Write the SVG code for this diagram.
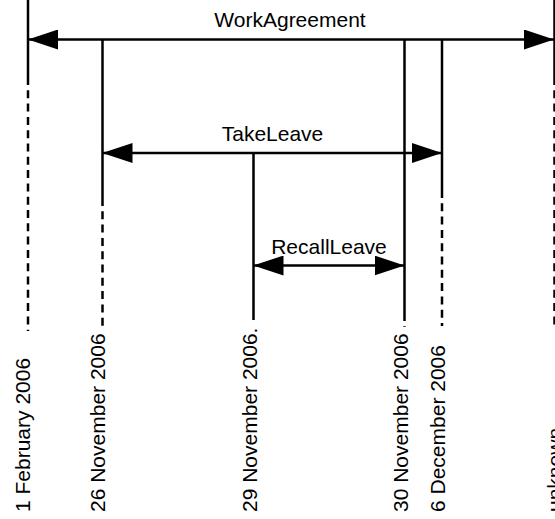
<svg xmlns="http://www.w3.org/2000/svg" width="555" height="519" viewBox="0 0 555 519">
  <style>
    .solid { stroke: #000; stroke-width: 2.5; fill: none; }
    .dash { stroke: #000; stroke-width: 2.5; fill: none; stroke-dasharray: 8 5.3; }
    .span { stroke: #000; stroke-width: 2.5; fill: none; marker-start: url(#head); marker-end: url(#head); }
    text { font-family: "Liberation Sans", Arial, sans-serif; font-size: 21px; fill: #000; }
    .lbl { text-anchor: middle; }
  </style>
  <defs>
    <marker id="head" markerUnits="userSpaceOnUse" markerWidth="30" markerHeight="20" refX="30" refY="10" orient="auto-start-reverse">
      <path d="M0,0 L30,10 L0,20 Z" fill="#000"/>
    </marker>
  </defs>
  <rect width="555" height="519" fill="#fff"/>

  <!-- date markers: solid part where intervals are active, dashed down to the label -->
  <g id="d-2006-02-01">
    <line class="solid" x1="28" y1="0" x2="28" y2="77"/>
    <line class="dash" x1="28" y1="77" x2="28" y2="331"/>
    <text transform="translate(30,512) rotate(-90)">1 February 2006</text>
  </g>
  <g id="d-2006-11-26">
    <line class="solid" x1="102.5" y1="39.5" x2="102.5" y2="198"/>
    <line class="dash" x1="102.5" y1="198" x2="102.5" y2="328"/>
    <text transform="translate(105,512) rotate(-90)">26 November 2006</text>
  </g>
  <g id="d-2006-11-29">
    <line class="solid" x1="253.5" y1="153" x2="253.5" y2="314"/>
    <line class="dash" x1="253.5" y1="314" x2="253.5" y2="320"/>
    <text transform="translate(256.5,512) rotate(-90)">29 November 2006.</text>
  </g>
  <g id="d-2006-11-30">
    <line class="solid" x1="404.5" y1="39.5" x2="404.5" y2="313"/>
    <line class="dash" x1="404.5" y1="313" x2="404.5" y2="327"/>
    <text transform="translate(407.5,512) rotate(-90)">30 November 2006</text>
  </g>
  <g id="d-2006-12-06">
    <line class="solid" x1="442" y1="39.5" x2="442" y2="190"/>
    <line class="dash" x1="442" y1="190" x2="442" y2="326"/>
    <text transform="translate(444.5,512) rotate(-90)">6 December 2006</text>
  </g>
  <g id="d-unknown">
    <line class="solid" x1="554.5" y1="0" x2="554.5" y2="77"/>
    <line class="dash" x1="554.5" y1="77" x2="554.5" y2="327"/>
    <text transform="translate(562,512) rotate(-90)">unknown</text>
  </g>

  <!-- intervals between dates -->
  <g id="connectors">
    <g id="work-agreement">
      <line class="span" x1="28" y1="39.5" x2="554" y2="39.5"/>
      <text class="lbl" x="290" y="27">WorkAgreement</text>
    </g>
    <g id="take-leave">
      <line class="span" x1="102.5" y1="153" x2="442" y2="153"/>
      <text class="lbl" x="272.5" y="141">TakeLeave</text>
    </g>
    <g id="recall-leave">
      <line class="span" x1="253.5" y1="265.5" x2="404.5" y2="265.5"/>
      <text class="lbl" x="329" y="254">RecallLeave</text>
    </g>
  </g>
</svg>
